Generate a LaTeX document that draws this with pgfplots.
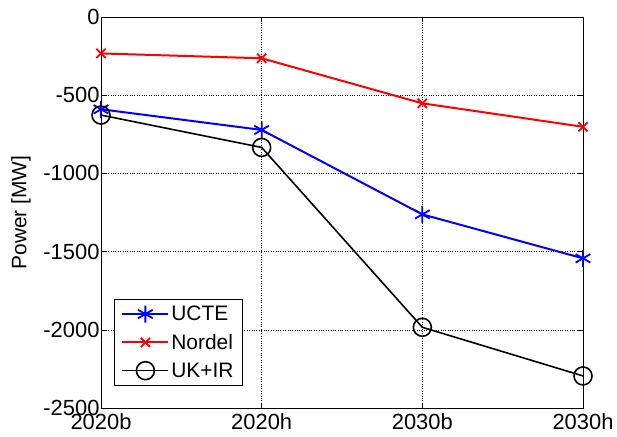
\documentclass[border=0pt]{standalone}
\usepackage{fontspec}
\setmainfont{Liberation Sans}
\usepackage{pgfplots}
\pgfplotsset{compat=1.18}

\begin{document}
\begin{tikzpicture}
\begin{axis}[
  scale only axis,
  width=482bp, height=391bp,
  xmin=0, xmax=3,
  ymin=-2500, ymax=0,
  xtick={0,1,2,3},
  xticklabels={2020b,2020h,2030b,2030h},
  ytick={-2500,-2000,-1500,-1000,-500,0},
  /pgf/number format/fixed,
  /pgf/number format/1000 sep={},
  /pgf/number format/assume math mode=true,
  tick style={black, line width=0.6pt},
  major tick length=5bp,
  tick align=inside,
  xtick pos=both, ytick pos=both,
  grid=major,
  major grid style={black, dotted, line width=0.6pt},
  axis line style={black, line width=0.8pt},
  font=\fontsize{22}{25}\selectfont,
  ticklabel style={font=\fontsize{22}{25}\selectfont},
  xticklabel style={yshift=-2bp},
  yticklabel style={xshift=2bp},
  ylabel={Power [MW]},
  every axis y label/.style={
    at={(axis description cs:0,0.5)}, rotate=90, anchor=center,
    yshift=80bp, font=\fontsize{21}{24}\selectfont},
  legend style={
    at={(rel axis cs:0,0)}, anchor=south west,
    xshift=13bp, yshift=22bp,
    draw=black, line width=0.8pt,
    font=\fontsize{21}{24}\selectfont,
    row sep=8bp, inner xsep=7bp, inner ysep=5bp,
    cells={anchor=west},
  },
  legend image code/.code={
    \draw[mark repeat=2, mark phase=2] plot coordinates {(0bp,0bp) (23bp,0bp) (46bp,0bp)};
  },
]
% UCTE
\addplot[blue, line width=2pt, mark=asterisk, mark size=8.5bp,
  mark options={line width=1.8pt}]
  coordinates {(0,-590) (1,-722) (2,-1262) (3,-1543)};
\addlegendentry{UCTE}
% Nordel
\addplot[red, line width=2pt, mark=x, mark size=6.5bp,
  mark options={line width=1.8pt}]
  coordinates {(0,-233) (1,-264) (2,-552) (3,-702)};
\addlegendentry{Nordel}
% UK+IR
\addplot[black, line width=1.6pt, mark=o, mark size=9bp,
  mark options={line width=1.6pt, fill=none}]
  coordinates {(0,-627) (1,-834) (2,-1984) (3,-2295)};
\addlegendentry{UK+IR}
\end{axis}
% fixed page frame around the axis box
\pgfresetboundingbox
\path[use as bounding box] (current axis.south west) ++(-101bp,-29bp)
  rectangle ([xshift=34bp,yshift=17bp]current axis.north east);
\end{tikzpicture}
\end{document}
